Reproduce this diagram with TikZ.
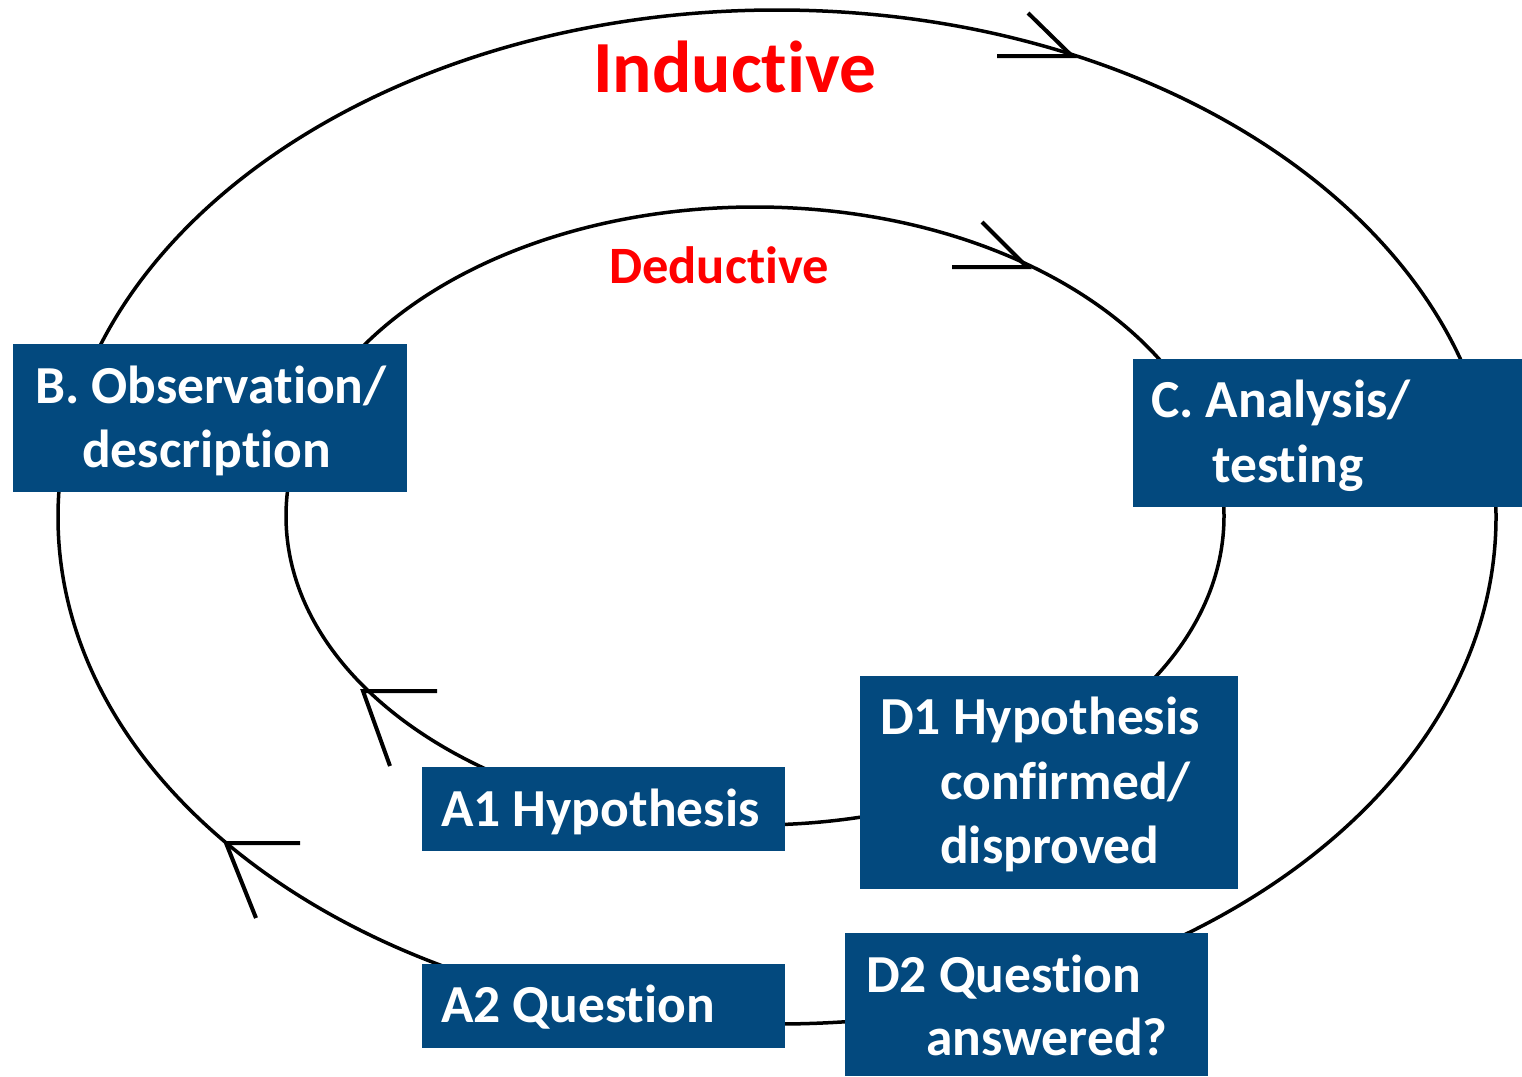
\documentclass[tikz,border=0pt]{standalone}
\usepackage{fontspec}
\setmainfont{Carlito}[Ligatures=CommonOff]
\definecolor{boxblue}{RGB}{3,73,126}
\definecolor{labred}{RGB}{255,0,0}
\begin{document}
\begin{tikzpicture}[x=1pt,y=-1pt,
  loop/.style={line width=3.5pt,draw=black},
  chev/.style={line width=4pt,draw=black},
  bluebox/.style={fill=boxblue,draw=none,inner sep=0pt},
  boxtext/.style={anchor=base west,inner sep=0pt,text=white,font=\fontsize{53.5}{63}\selectfont\bfseries},
  title/.style={anchor=base west,inner sep=0pt,text=labred}
]
\useasboundingbox (0,0) rectangle (1522,1076);
% loops
\draw[loop] (777,517) ellipse [x radius=719, y radius=507];
\draw[loop] (755,516) ellipse [x radius=469, y radius=309];
% chevrons
\coordinate (ot) at (1072,56);
\draw[chev] (997,56) -- (ot) -- (1028,13);
\coordinate (it) at (1027,267);
\draw[chev] (952,267) -- (it) -- (982,222);
\coordinate (il) at (363,691);
\draw[chev] (437,691) -- (il) -- (390,766);
\coordinate (ol) at (226,843);
\draw[chev] (300,843) -- (ol) -- (256,918);
% titles
\node[title,font=\fontsize{73.5}{80}\selectfont\bfseries] (ind) at (593,92) {Inductive};
\node[title,font=\fontsize{52.5}{60}\selectfont\bfseries] (ded) at (609,283) {Deductive};
% boxes
\path[bluebox] (13,344) rectangle (407,492);
\node[boxtext] (b1) at (35,403) {B. Observation/};
\node[boxtext] (b2) at (82,467) {description};
\path[bluebox] (1133,359) rectangle (1522,507);
\node[boxtext] (c1) at (1151,417) {C. Analysis/};
\node[boxtext] (c2) at (1212,482) {testing};
\path[bluebox] (860,676) rectangle (1238,889);
\node[boxtext] (d11) at (880,734) {D1 Hypothesis};
\node[boxtext] (d12) at (940,799) {confirmed/};
\node[boxtext] (d13) at (940,863) {disproved};
\path[bluebox] (422,767) rectangle (785,851);
\node[boxtext] (a1) at (441,826) {A1 Hypothesis};
\path[bluebox] (422,964) rectangle (785,1048);
\node[boxtext] (a2) at (441,1022) {A2 Question};
\path[bluebox] (845,933) rectangle (1208,1076);
\node[boxtext] (d21) at (866,992) {D2 Question};
\node[boxtext] (d22) at (926,1055) {answered?};
\end{tikzpicture}
\end{document}
